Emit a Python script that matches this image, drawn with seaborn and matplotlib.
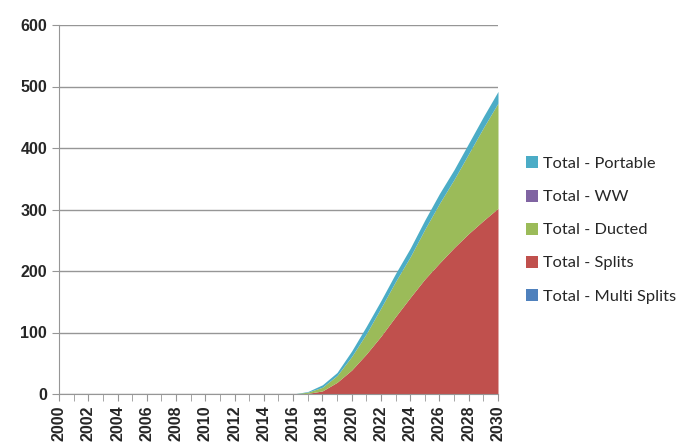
import numpy as np
import pandas as pd
import matplotlib
matplotlib.use("Agg")
import matplotlib.pyplot as plt
import seaborn as sns

# anni e valori
years = list(range(2000, 2031))
multi_splits = [0] * 31
splits = [0] * 17 + [1, 5, 19, 39, 65, 94, 126, 157, 187, 213, 238, 261, 282, 302]
ducted = [0] * 17 + [2, 6, 11, 22, 33, 46, 57, 66, 81, 97, 111, 130, 151, 171]
ww = [0] * 31
portable = [0] * 17 + [1, 4, 5, 9, 12, 12, 13, 14, 15, 16, 16, 17, 18, 19]

labels = ["Total - Multi Splits", "Total - Splits", "Total - Ducted", "Total - WW", "Total - Portable"]
colors = ["#4F81BD", "#C0504D", "#9BBB59", "#8064A2", "#4BACC6"]

df = pd.DataFrame({"year": years, labels[0]: multi_splits, labels[1]: splits,
                   labels[2]: ducted, labels[3]: ww, labels[4]: portable})

sns.set_style("white")
plt.rcParams['font.family'] = ['Liberation Sans', 'DejaVu Sans']

fig = plt.figure(figsize=(6.84, 4.43), dpi=100)
ax = fig.add_axes([59 / 684, 49 / 443, 439 / 684, 369 / 443])

ax.stackplot(df["year"], [df[c] for c in labels], colors=colors, labels=labels, linewidth=0)

ax.set_xlim(2000, 2030)
ax.set_ylim(0, 600)
ax.set_yticks(range(0, 601, 100))
ax.set_xticks(range(2000, 2031, 2))
ax.set_xticks(range(2000, 2031, 1), minor=True)
ax.yaxis.grid(True, color="#969696", linewidth=1)
ax.set_axisbelow(True)

for s in ["top", "right"]:
    ax.spines[s].set_visible(False)
for s in ["left", "bottom"]:
    ax.spines[s].set_color("#969696")

ax.tick_params(axis="x", which="both", direction="out", length=5, color="#969696", bottom=True, pad=3)
ax.tick_params(axis="y", direction="out", length=5, color="#969696", left=True)
for lab in ax.get_xticklabels():
    lab.set_rotation(90)
    lab.set_fontweight("bold")
    lab.set_fontsize(11.5)
for lab in ax.get_yticklabels():
    lab.set_fontweight("bold")
    lab.set_fontsize(11.5)

h, l = ax.get_legend_handles_labels()
leg = fig.legend(h[::-1], l[::-1], loc="center left", bbox_to_anchor=(511 / 684, 1 - 230 / 443),
                 frameon=False, labelspacing=1.12, handlelength=0.75, handleheight=0.75,
                 handletextpad=0.3, prop={"family": ["Lato", "DejaVu Sans"], "size": 11.8})

fig.savefig("out.png", dpi=100)
